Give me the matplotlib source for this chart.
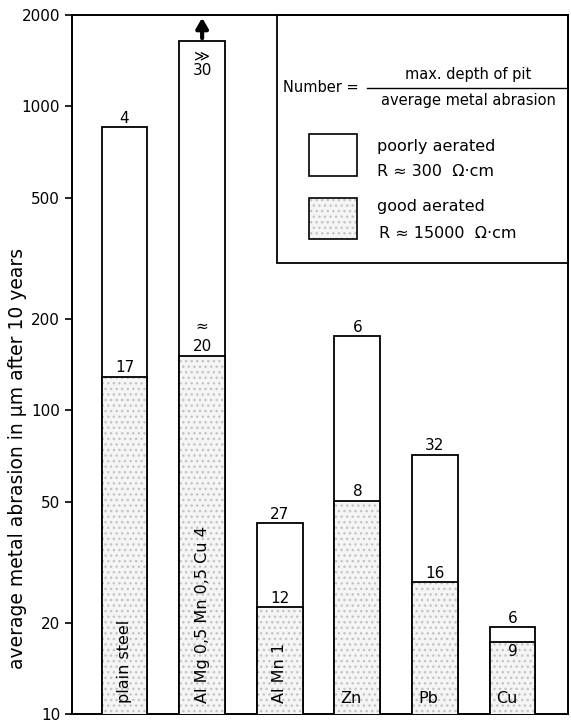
import matplotlib.pyplot as plt
from matplotlib.patches import Rectangle
import numpy as np

metals = ['plain steel', 'Al Mg 0,5 Mn 0,5 Cu 4', 'Al Mn 1', 'Zn', 'Pb', 'Cu']
poor = [854, 1643, 42.4, 175, 71.3, 19.3]      # poorly aerated, R ~ 300 Ohm cm
good = [129, 151, 22.5, 50.4, 27.2, 17.3]      # good aerated, R ~ 15000 Ohm cm
poor_num = ['4', '30', '27', '6', '32', '6']
good_num = ['17', '20', '12', '8', '16', '9']
yticks = [10, 20, 50, 100, 200, 500, 1000, 2000]

plt.rcParams['font.family'] = 'DejaVu Sans'
fig = plt.figure(figsize=(5.71, 7.23), dpi=100)
ax = fig.add_axes([72/571, 1-714/723, (568-72)/571, (714-15)/723])

x = np.arange(len(metals))
w = 0.59
ax.bar(x, poor, w, bottom=0, color='white', edgecolor='black', linewidth=1.3, zorder=2)
ax.bar(x, good, w, color='#f5f5f5', edgecolor='#c4c4c4', hatch='...', linewidth=0, zorder=3)
ax.bar(x, good, w, fill=False, edgecolor='black', linewidth=1.3, zorder=4)

ax.set_yscale('log')
ax.set_ylim(10, 2000)
ax.set_xlim(-0.677, 5.715)
ax.set_yticks(yticks)
ax.set_yticklabels([str(t) for t in yticks], fontsize=11)
ax.minorticks_off()
ax.set_xticks([])
ax.tick_params(axis='y', direction='out', length=5, width=1.2)
for s in ax.spines.values():
    s.set_linewidth(1.4)

# numbers above the bars
for i in range(len(metals)):
    if i == 1:
        # broken top bar: value far off scale
        ax.annotate('≫', (x[i], poor[i]), xytext=(0, -5), textcoords='offset points',
                    ha='center', va='top', fontsize=11, zorder=5)
        ax.annotate(poor_num[i], (x[i], poor[i]), xytext=(0, -16), textcoords='offset points',
                    ha='center', va='top', fontsize=11, zorder=5)
        ax.annotate('≈', (x[i], good[i]), xytext=(0, 16), textcoords='offset points',
                    ha='center', va='bottom', fontsize=11, zorder=5)
        ax.annotate(good_num[i], (x[i], good[i]), xytext=(0, 1), textcoords='offset points',
                    ha='center', va='bottom', fontsize=11, zorder=5)
        ax.annotate('', xy=(x[i], 2000), xytext=(x[i], poor[i]),
                    arrowprops=dict(arrowstyle='-|>,head_width=0.35,head_length=0.6',
                                    color='black', lw=3), zorder=5)
        continue
    ax.annotate(poor_num[i], (x[i], poor[i]), xytext=(0, 1), textcoords='offset points',
                ha='center', va='bottom', fontsize=11, zorder=5)
    if i == 5:
        ax.annotate(good_num[i], (x[i], good[i]), xytext=(0, -2), textcoords='offset points',
                    ha='center', va='top', fontsize=11, zorder=5)
    else:
        ax.annotate(good_num[i], (x[i], good[i]), xytext=(0, 1), textcoords='offset points',
                    ha='center', va='bottom', fontsize=11, zorder=5)

# metal names inside the bars
tr = ax.get_xaxis_transform()
for i, m in enumerate(metals):
    if i < 3:
        ax.text(x[i], 0.016, m, rotation=90, ha='center', va='bottom', fontsize=11.5,
                transform=tr, zorder=5)
    else:
        ax.text(x[i] - w/2 + 0.08, 0.012, m, ha='left', va='bottom', fontsize=11.5,
                transform=tr, zorder=5)

fig.text(18/571, 1-458/723, 'average metal abrasion in μm after 10 years',
         rotation=90, ha='center', va='center', fontsize=13.5)

# legend box in upper right corner
def fp(px, py):
    return (px/571, 1-py/723)

lx0, ly0 = fp(277, 263)
lx1, ly1 = fp(568, 15)
fig.patches.append(Rectangle((lx0, ly0), lx1-lx0, ly1-ly0, transform=fig.transFigure,
                             fill=False, edgecolor='black', linewidth=1.3))
fig.text(*fp(283, 88), 'Number =', ha='left', va='center', fontsize=10.5)
fig.text(*fp(468, 74), 'max. depth of pit', ha='center', va='center', fontsize=10.5)
fig.text(*fp(468, 101), 'average metal abrasion', ha='center', va='center', fontsize=10.5)
fig.lines.append(plt.Line2D([367/571, 567/571], [1-88/723, 1-88/723],
                            transform=fig.transFigure, color='black', lw=1))
sx0, sy0 = fp(309, 176)
sx1, sy1 = fp(357, 134)
fig.patches.append(Rectangle((sx0, sy0), sx1-sx0, sy1-sy0, transform=fig.transFigure,
                             facecolor='white', edgecolor='black', linewidth=1.2))
gx0, gy0 = fp(309, 239)
gx1, gy1 = fp(357, 198)
fig.patches.append(Rectangle((gx0, gy0), gx1-gx0, gy1-gy0, transform=fig.transFigure,
                             facecolor='#f5f5f5', edgecolor='#c4c4c4', hatch='...', linewidth=0))
fig.patches.append(Rectangle((gx0, gy0), gx1-gx0, gy1-gy0, transform=fig.transFigure,
                             fill=False, edgecolor='black', linewidth=1.2))
fig.text(*fp(377, 147), 'poorly aerated', ha='left', va='center', fontsize=11.5)
fig.text(*fp(377, 172), 'R ≈ 300  Ω·cm', ha='left', va='center', fontsize=11.5)
fig.text(*fp(377, 207), 'good aerated', ha='left', va='center', fontsize=11.5)
fig.text(*fp(379, 234), 'R ≈ 15000  Ω·cm', ha='left', va='center', fontsize=11.5)

fig.savefig('out.png', dpi=100)
